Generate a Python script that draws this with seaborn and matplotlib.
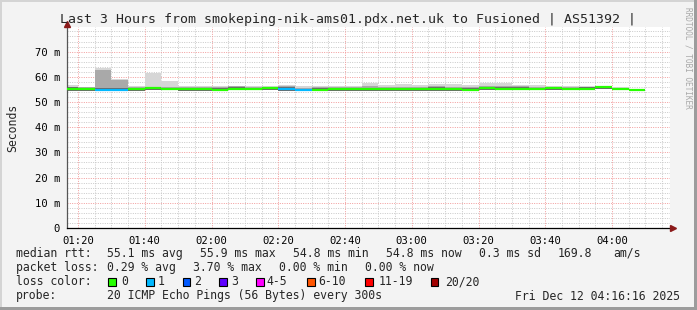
import matplotlib
matplotlib.use("Agg")
import matplotlib.pyplot as plt
from matplotlib.patches import Rectangle
import seaborn as sns
import numpy as np

# ---------------- data ----------------
times = ["01:15", "01:20", "01:25", "01:30", "01:35", "01:40", "01:45", "01:50",
         "01:55", "02:00", "02:05", "02:10", "02:15", "02:20", "02:25", "02:30",
         "02:35", "02:40", "02:45", "02:50", "02:55", "03:00", "03:05", "03:10",
         "03:15", "03:20", "03:25", "03:30", "03:35", "03:40", "03:45", "03:50",
         "03:55", "04:00", "04:05"]
median_ms = [55.0, 55.0, 54.9, 54.9, 55.0, 55.5, 55.3, 55.1, 55.0, 54.8, 55.2, 55.2,
             55.4, 55.1, 54.8, 54.9, 55.0, 55.0, 55.0, 55.0, 55.0, 55.0, 55.0, 55.0,
             54.9, 55.6, 55.2, 55.2, 55.3, 55.4, 55.3, 55.2, 55.9, 55.3, 54.8]
loss_count = [0, 0, 1, 1, 0, 0, 0, 0, 0, 0, 0, 0, 0, 1, 1, 0, 0, 0, 0, 0, 0, 0, 0, 0,
              0, 0, 0, 0, 0, 0, 0, 0, 0, 0, 0]
smoke_lo = [54.5, 54.5, 54.4, 54.4, 54.5, 54.6, 54.6, 54.5, 54.5, 54.3, 54.6, 54.6,
            54.7, 54.5, 54.3, 54.4, 54.5, 54.5, 54.5, 54.5, 54.5, 54.5, 54.5, 54.5,
            54.4, 54.8, 54.6, 54.6, 54.7, 54.8, 54.7, 54.6, 55.0, 54.7, 54.8]
smoke_hi = [56.9, 56.0, 63.6, 59.0, 56.2, 61.5, 58.5, 56.3, 56.3, 56.5, 56.3, 56.3,
            56.2, 56.6, 56.2, 56.5, 56.5, 56.5, 57.7, 56.9, 57.1, 56.9, 57.0, 57.0,
            56.9, 57.7, 57.5, 56.6, 56.9, 56.3, 56.3, 56.3, 56.0, 55.8, 54.8]
smoke_mid = [56.0, 55.8, 62.8, 58.6, 55.8, 55.9, 55.9, 55.8, 55.8, 55.9, 56.2, 55.8,
             55.9, 56.3, 55.7, 56.0, 56.0, 56.0, 56.2, 56.0, 56.0, 56.0, 56.3, 56.0,
             56.0, 56.4, 56.3, 56.3, 55.9, 55.9, 55.9, 55.9, 55.6, 55.6, 54.8]
smoke_dark = [55.8, 55.5, 55.6, 55.5, 55.5, 55.4, 55.4, 55.5, 55.4, 55.4, 56.1, 55.6,
              55.5, 56.0, 55.3, 55.4, 55.4, 55.5, 55.5, 55.4, 55.4, 55.5, 56.1, 55.5,
              55.5, 55.4, 56.1, 56.1, 55.6, 55.7, 55.7, 55.8, 55.4, 55.5, 54.8]

loss_labels = ["0", "1", "2", "3", "4-5", "6-10", "11-19", "20/20"]
loss_colors = ["#26ff00", "#00b8ff", "#0059ff", "#5e00ff", "#ff00ff", "#ff5500",
               "#ff0000", "#a10000"]

x_ticks = ["01:20", "01:40", "02:00", "02:20", "02:40", "03:00", "03:20", "03:40", "04:00"]
y_ticks = [0, 10, 20, 30, 40, 50, 60, 70]
y_tick_labels = ["0", "10 m", "20 m", "30 m", "40 m", "50 m", "60 m", "70 m"]

title = "Last 3 Hours from smokeping-nik-ams01.pdx.net.uk to Fusioned | AS51392 |"


def to_min(t):
    h, m = t.split(":")
    return int(h) * 60 + int(m)


starts = np.array([to_min(t) for t in times], dtype=float)
step = 5.0

# ---------------- figure ----------------
sns.set_style("white")
plt.rcParams["font.family"] = ["DejaVu Sans Mono"]
W, H = 697, 310
fig = plt.figure(figsize=(W / 100, H / 100), dpi=100, facecolor="#f3f3f3")


def fx(x):
    return x / W


def fy(y):
    return 1 - y / H


ax_l, ax_r, ax_t, ax_b = 67, 670, 27, 228
ax = fig.add_axes([fx(ax_l), fy(ax_b), (ax_r - ax_l) / W, (ax_b - ax_t) / H])
ax.set_facecolor("white")

xmin = 80 - (78 - ax_l) / 3.3375
xmax = 80 + (ax_r - 78) / 3.3375
ax.set_xlim(xmin, xmax)
ax.set_ylim(0, (ax_b - ax_t) / 2.52)

# grid
minor_c = "#c8c8c8"
major_c = "#f29a9a"
dot = (0, (1, 1.4))
maj_x = [to_min(t) for t in x_ticks]
for m in np.arange(75, 260, 5):
    if m in maj_x or m < xmin or m > xmax:
        continue
    ax.axvline(m, color=minor_c, lw=0.7, ls=dot, zorder=0)
for v in np.arange(2, 80, 2):
    if v % 10 == 0:
        continue
    ax.axhline(v, color=minor_c, lw=0.7, ls=dot, zorder=0)
for m in maj_x:
    ax.axvline(m, color=major_c, lw=0.7, ls=dot, zorder=0.5)
for v in y_ticks[1:]:
    ax.axhline(v, color=major_c, lw=0.7, ls=dot, zorder=0.5)

# smoke
lo = np.array(smoke_lo)
ax.bar(starts, np.array(smoke_hi) - lo, bottom=lo, width=step, align="edge",
       color="#d6d6d6", lw=0, zorder=1)
ax.bar(starts, np.array(smoke_mid) - lo, bottom=lo, width=step, align="edge",
       color="#a9a9a9", lw=0, zorder=1.1)
ax.bar(starts, np.array(smoke_dark) - lo, bottom=lo, width=step, align="edge",
       color="#6a6a6a", lw=0, zorder=1.2)

# median line coloured by loss
ax.hlines(median_ms, starts, starts + step,
          colors=[loss_colors[c] for c in loss_count], lw=1.6, zorder=3)

# ticks
ax.set_xticks(maj_x)
ax.set_xticklabels(x_ticks)
ax.set_yticks(y_ticks)
ax.set_yticklabels(y_tick_labels)
ax.tick_params(axis="both", labelsize=7.6, colors="#000000", length=0, pad=5)
ax.tick_params(axis="x", pad=6)
ax.set_ylabel("Seconds", fontsize=8.3, labelpad=11)

for s in ["top", "right"]:
    ax.spines[s].set_visible(False)
ax.spines["left"].set_color("#555555")
ax.spines["left"].set_linewidth(0.9)
ax.spines["bottom"].set_color("#000000")
ax.spines["bottom"].set_linewidth(0.9)

# axis arrows
fig.add_artist(plt.Line2D([fx(ax_l), fx(ax_l)], [fy(ax_t), fy(23)], color="#555555",
                          lw=0.9, transform=fig.transFigure))
fig.add_artist(plt.Line2D([fx(ax_r), fx(673)], [fy(ax_b), fy(ax_b)], color="#000000",
                          lw=0.9, transform=fig.transFigure))
fig.add_artist(plt.Line2D([fx(ax_l)], [fy(23.5)], marker="^", ms=4.5, color="#8b1a1a",
                          transform=fig.transFigure, ls=""))
fig.add_artist(plt.Line2D([fx(673)], [fy(ax_b)], marker=">", ms=4.5, color="#8b1a1a",
                          transform=fig.transFigure, ls=""))

# title
fig.text(fx(347.5), fy(19), title, ha="center", va="center", fontsize=9.55)

# watermark
fig.text(fx(688), fy(58), "RRDTOOL / TOBI OETIKER", rotation=270, ha="center",
         va="center", fontsize=5.6, color="#a8a8a8")

# legend text
fs = 8.3
rows_y = [253.5, 267.7, 281.7, 296.0]
row1 = [(16, "median rtt:"), (107, "55.1 ms avg"), (200, "55.9 ms max"),
        (293, "54.8 ms min"), (386, "54.8 ms now"), (479, "0.3 ms sd"),
        (558, "169.8"), (613, "am/s")]
row2 = [(16, "packet loss:"), (107, "0.29 % avg"), (193.5, "3.70 % max"),
        (279, "0.00 % min"), (365, "0.00 % now")]
for x, t in row1:
    fig.text(fx(x), fy(rows_y[0]), t, ha="left", va="center", fontsize=fs)
for x, t in row2:
    fig.text(fx(x), fy(rows_y[1]), t, ha="left", va="center", fontsize=fs)
fig.text(fx(16), fy(rows_y[2]), "loss color:", ha="left", va="center", fontsize=fs)
box_x = [108.3, 146, 182.7, 219.3, 256, 307.3, 365, 430.7]
lab_x = [121, 157.5, 194, 231, 266, 318, 378.5, 445]
for bx, lx, lab, col in zip(box_x, lab_x, loss_labels, loss_colors):
    fig.add_artist(Rectangle((fx(bx), fy(rows_y[2] + 4)), 7.5 / W, 7.5 / H,
                             facecolor=col, edgecolor="#000000", lw=0.8,
                             transform=fig.transFigure))
    fig.text(fx(lx), fy(rows_y[2]), lab, ha="left", va="center", fontsize=fs)
fig.text(fx(16), fy(rows_y[3]), "probe:", ha="left", va="center", fontsize=fs)
fig.text(fx(107), fy(rows_y[3]), "20 ICMP Echo Pings (56 Bytes) every 300s",
         ha="left", va="center", fontsize=fs)
fig.text(fx(680), fy(rows_y[3]), "Fri Dec 12 04:16:16 2025", ha="right",
         va="center", fontsize=fs)

# frame (3D shade)
fig.add_artist(Rectangle((0, fy(2)), 1, 2 / H, facecolor="#d4d4d4", lw=0,
                         transform=fig.transFigure))
fig.add_artist(Rectangle((0, 0), 2 / W, 1, facecolor="#d4d4d4", lw=0,
                         transform=fig.transFigure))
fig.add_artist(Rectangle((0, 0), 1, 3 / H, facecolor="#9c9c9c", lw=0,
                         transform=fig.transFigure))
fig.add_artist(Rectangle((1 - 3 / W, 0), 3 / W, 1, facecolor="#9c9c9c", lw=0,
                         transform=fig.transFigure))

fig.savefig("out.png", dpi=100, facecolor=fig.get_facecolor())
